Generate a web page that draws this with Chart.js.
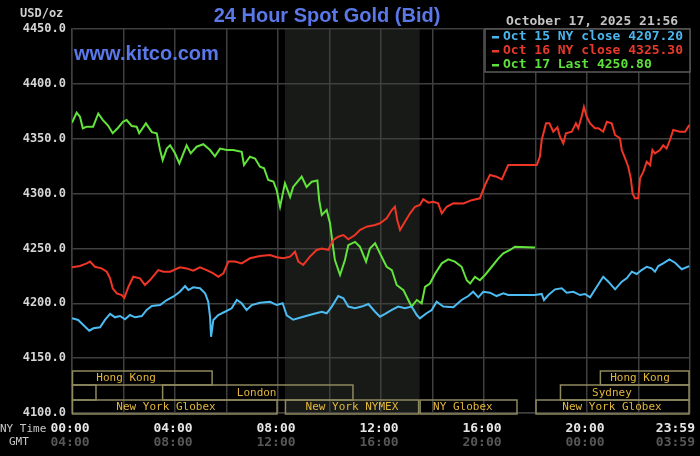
<!DOCTYPE html>
<html><head><meta charset="utf-8">
<script src="https://cdn.jsdelivr.net/npm/chart.js@4/dist/chart.umd.min.js"></script>
<style>html,body{margin:0;padding:0;background:#000;overflow:hidden}#wrap{width:700px;height:456px;position:relative}canvas{display:block;background:#000}</style>
</head><body><div id="wrap"><canvas id="c" width="700" height="456"></canvas></div>
<script>
// ---- data ----
const oct15Hours = [0.0,0.24,0.44,0.67,0.83,1.09,1.28,1.48,1.67,1.86,2.06,2.25,2.45,2.71,2.90,3.10,3.42,3.68,3.93,4.19,4.39,4.52,4.71,4.97,5.17,5.29,5.36,5.40,5.49,5.68,5.94,6.20,6.40,6.59,6.78,6.98,7.30,7.69,7.95,8.18,8.34,8.59,8.98,9.37,9.70,9.89,10.09,10.34,10.54,10.73,10.99,11.25,11.51,11.77,11.96,12.16,12.42,12.67,12.93,13.19,13.39,13.51,13.77,13.97,14.16,14.42,14.81,15.13,15.39,15.58,15.78,15.97,16.23,16.49,16.75,16.94,17.98,18.24,18.33,18.50,18.76,19.02,19.21,19.47,19.73,19.92,20.12,20.38,20.63,20.83,21.09,21.35,21.54,21.74,21.93,22.12,22.32,22.51,22.64,22.77,22.96,23.20,23.42,23.68,23.97];
const oct15Price = [4186.3,4184.8,4180.2,4175.0,4177.2,4178.1,4184.8,4190.3,4187.2,4188.4,4185.4,4189.3,4187.2,4188.4,4193.9,4197.5,4198.4,4203.0,4206.0,4210.5,4215.7,4212.1,4214.5,4213.7,4209.1,4201.4,4187.8,4169.5,4184.8,4189.3,4192.3,4195.4,4203.0,4200.0,4193.9,4198.4,4200.5,4201.4,4198.4,4200.0,4189.0,4185.0,4187.8,4190.3,4192.3,4190.9,4197.0,4206.6,4204.5,4197.0,4195.4,4197.0,4199.3,4192.3,4187.8,4190.3,4193.9,4197.0,4195.4,4197.0,4189.3,4186.3,4190.9,4193.9,4201.4,4197.0,4196.3,4203.0,4206.6,4210.5,4205.4,4210.5,4209.7,4206.6,4209.0,4207.5,4207.5,4208.5,4203.0,4207.5,4212.7,4213.6,4209.7,4210.5,4207.5,4208.5,4205.4,4215.1,4224.2,4219.7,4212.7,4219.7,4222.8,4228.8,4226.7,4230.3,4233.3,4231.8,4228.8,4233.9,4236.4,4240.0,4237.0,4231.0,4233.9];

const oct16Hours = [0.00,0.31,0.57,0.70,0.89,1.15,1.35,1.48,1.58,1.74,1.93,2.03,2.19,2.38,2.64,2.83,3.03,3.35,3.55,3.81,4.19,4.45,4.71,4.97,5.23,5.49,5.68,5.88,6.07,6.33,6.59,6.91,7.30,7.69,7.95,8.21,8.47,8.66,8.79,8.98,9.24,9.50,9.70,9.95,10.15,10.34,10.54,10.73,10.99,11.18,11.44,11.77,11.96,12.22,12.42,12.54,12.63,12.74,12.93,13.13,13.32,13.51,13.64,13.84,14.03,14.22,14.36,14.55,14.81,15.20,15.52,15.84,16.04,16.23,16.49,16.69,16.94,18.05,18.17,18.24,18.41,18.54,18.69,18.85,18.95,19.08,19.18,19.41,19.57,19.66,19.79,19.88,19.99,20.12,20.31,20.44,20.63,20.77,20.96,21.09,21.28,21.35,21.48,21.60,21.70,21.77,21.86,21.99,22.06,22.19,22.32,22.45,22.54,22.64,22.83,22.96,23.09,23.22,23.35,23.61,23.81,23.97];
const oct16Price = [4232.8,4234.0,4236.4,4238.0,4233.3,4231.8,4228.8,4222.7,4213.6,4209.0,4207.5,4205.0,4215.0,4224.2,4222.7,4216.7,4221.2,4230.3,4228.8,4228.8,4232.8,4231.8,4229.7,4232.8,4230.3,4227.3,4224.2,4227.3,4238.0,4238.0,4236.4,4241.0,4243.0,4244.0,4242.0,4241.0,4242.5,4247.0,4238.0,4234.9,4242.5,4248.6,4250.0,4248.6,4257.7,4260.7,4262.2,4258.3,4262.2,4266.8,4269.8,4271.3,4272.9,4277.4,4285.0,4288.0,4275.9,4266.8,4274.4,4282.0,4288.0,4289.6,4294.8,4291.7,4292.6,4291.1,4282.0,4288.0,4291.1,4291.0,4294.0,4295.7,4307.8,4317.0,4315.4,4313.0,4326.0,4326.0,4333.6,4348.8,4364.0,4364.0,4356.4,4360.4,4351.8,4345.8,4354.9,4356.4,4364.0,4359.5,4370.0,4379.0,4370.0,4364.0,4359.5,4359.5,4356.4,4365.5,4364.0,4353.4,4350.4,4339.7,4332.0,4324.5,4313.9,4300.2,4295.7,4295.7,4314.0,4320.0,4329.0,4326.0,4339.7,4336.7,4339.7,4344.0,4341.0,4348.8,4358.0,4356.4,4356.4,4362.5];

const oct17Hours = [0.00,0.18,0.31,0.42,0.58,0.82,1.02,1.20,1.40,1.58,1.79,1.98,2.12,2.32,2.51,2.61,2.87,3.10,3.29,3.42,3.52,3.68,3.81,4.00,4.17,4.45,4.61,4.84,5.10,5.36,5.55,5.75,6.01,6.26,6.59,6.68,6.91,7.11,7.30,7.46,7.62,7.82,7.95,8.08,8.27,8.47,8.59,8.92,9.11,9.31,9.53,9.60,9.70,9.89,10.02,10.12,10.21,10.41,10.60,10.73,10.99,11.18,11.42,11.57,11.77,11.96,12.22,12.42,12.61,12.87,13.06,13.19,13.39,13.58,13.71,13.90,14.10,14.36,14.61,14.87,15.13,15.33,15.46,15.65,15.84,16.04,16.30,16.56,16.75,17.01,17.20,17.98];
const oct17Price = [4364.6,4373.7,4370.0,4359.5,4361.0,4361.0,4373.0,4367.0,4362.0,4355.0,4360.0,4365.5,4367.0,4361.6,4361.0,4355.0,4364.0,4356.0,4355.0,4339.7,4330.6,4341.0,4344.0,4336.7,4327.6,4344.0,4336.7,4342.7,4345.0,4339.7,4334.0,4341.0,4339.7,4339.7,4338.0,4326.0,4333.6,4332.0,4324.5,4323.0,4312.4,4311.0,4303.0,4288.0,4309.4,4297.0,4306.0,4315.4,4306.0,4310.8,4312.0,4294.0,4280.5,4285.0,4273.0,4254.7,4239.4,4225.8,4239.4,4253.0,4256.0,4251.6,4237.9,4250.0,4254.7,4245.5,4233.3,4230.3,4216.7,4212.0,4203.0,4197.0,4203.0,4200.0,4215.0,4218.0,4227.0,4236.4,4240.0,4238.0,4233.3,4221.0,4218.0,4224.0,4221.0,4225.8,4233.3,4241.0,4245.5,4248.6,4251.6,4250.8];

const yTickValues = [4100,4150,4200,4250,4300,4350,4400,4450];
const labelHours = [0,4,8,12,16,20,24];
const nyTimeLabels = ['00:00','04:00','08:00','12:00','16:00','20:00','23:59'];
const gmtLabels = ['04:00','08:00','12:00','16:00','20:00','00:00','03:59'];

const legendLabels = ['Oct 15 NY close 4207.20','Oct 16 NY close 4325.30','Oct 17 Last 4250.80'];
const seriesColors = ['#4cbcf2','#ee3526','#62e43a'];
const legendColors = ['#4ab6ee','#e8392a','#5ee03c'];

const sessionNames = ['Hong Kong','','London','New York Globex','New York NYMEX','NY Globex','Hong Kong','Sydney','New York Globex'];
const sessionStart = [0,0,3.5,0,8.27,13.5,20.5,18.95,18.0];
const sessionEnd   = [5.48,0.97,10.95,8.0,13.5,17.32,24,24,24];
const sessionRow   = [0,1,1,2,2,2,0,1,2];
const sessionLabelAt = [2.1,0,7.17,3.65,10.87,15.18,22.06,20.97,20.97];
const nymexShade = [8.27,13.5];

// ---- chart ----
function pts(h,p){const n=Math.min(h.length,p.length);const o=[];for(let i=0;i<n;i++)o.push({x:h[i],y:p[i]});return o;}
const MONO='"DejaVu Sans Mono", monospace';

const overlay = {
  id:'overlay',
  beforeDraw(chart){
    const {ctx, chartArea:a, scales:{x}} = chart;
    ctx.save();
    ctx.fillStyle='#000';ctx.fillRect(0,0,chart.width,chart.height);
    const x0=x.getPixelForValue(nymexShade[0]), x1=x.getPixelForValue(nymexShade[1]);
    ctx.fillStyle='#171a17';ctx.fillRect(x0,a.top,x1-x0,a.bottom-a.top);
    ctx.restore();
  },
  afterDraw(chart){
    const {ctx, chartArea:a, scales:{x}} = chart;
    ctx.save();
    // session boxes
    const rowTop=[a.bottom-42,a.bottom-28,a.bottom-13];
    const rowH=[14,15,14];
    ctx.strokeStyle='#8e895e';ctx.lineWidth=1.5;
    ctx.font='11px '+MONO;ctx.textAlign='center';ctx.textBaseline='middle';
    for(let i=0;i<sessionNames.length;i++){
      const xs=x.getPixelForValue(sessionStart[i]), xe=x.getPixelForValue(sessionEnd[i]);
      const r=sessionRow[i];
      ctx.strokeRect(xs+0.5,rowTop[r],xe-xs-1.5,rowH[r]);
      if(sessionNames[i]){ctx.fillStyle='#e2b73c';ctx.fillText(sessionNames[i],x.getPixelForValue(sessionLabelAt[i]),rowTop[r]+rowH[r]/2+0.5);}
    }
    // x labels
    ctx.font='bold 13px '+MONO;
    for(let i=0;i<labelHours.length;i++){
      let px=x.getPixelForValue(labelHours[i]);
      ctx.textAlign='center';
      if(i===labelHours.length-1){ctx.textAlign='right';px+=5;}
      else px-=2;
      ctx.fillStyle='#e6e6e6';ctx.fillText(nyTimeLabels[i],px,429);
      ctx.fillStyle='#575757';ctx.fillText(gmtLabels[i],px,443);
    }
    ctx.font='11px '+MONO;ctx.fillStyle='#c8c8c8';
    ctx.textAlign='left';ctx.fillText('NY Time',0,429);
    ctx.fillText('GMT',9,442);
    // USD/oz
    ctx.font='bold 12px '+MONO;ctx.fillStyle='#cfcfcf';ctx.fillText('USD/oz',20,14);
    // title
    ctx.font='bold 20px "Liberation Sans", Arial, sans-serif';
    ctx.fillStyle='#5a78e8';ctx.textAlign='center';
    ctx.fillText('24 Hour Spot Gold (Bid)',327,16);
    ctx.textAlign='left';ctx.fillText('www.kitco.com',74,54);
    // date
    ctx.font='bold 13px '+MONO;ctx.fillStyle='#c4c4c4';ctx.textAlign='left';
    ctx.fillText('October 17, 2025 21:56',506,22);
    // legend box
    ctx.fillStyle='#000';ctx.fillRect(485,a.top,a.right-485,43);
    ctx.strokeStyle='#5a5a5a';ctx.lineWidth=1.5;ctx.strokeRect(485,a.top,a.right-485,43);
    ctx.font='bold 13px '+MONO;
    const ly=[37,51,65];
    for(let i=0;i<3;i++){
      ctx.fillStyle=legendColors[i];
      ctx.fillRect(492,ly[i]-1,7,2.5);
      ctx.fillText(legendLabels[i],503,ly[i]);
    }
    ctx.restore();
  }
};

new Chart(document.getElementById('c'),{
  type:'line',
  data:{datasets:[
    {label:'Oct 15 NY close 4207.20',data:pts(oct15Hours,oct15Price),borderColor:seriesColors[0]},
    {label:'Oct 16 NY close 4325.30',data:pts(oct16Hours,oct16Price),borderColor:seriesColors[1]},
    {label:'Oct 17 Last 4250.80',data:pts(oct17Hours,oct17Price),borderColor:seriesColors[2]}
  ]},
  options:{
    responsive:false,animation:false,devicePixelRatio:1,
    layout:{padding:{top:29,right:10,left:0,bottom:0}},
    elements:{point:{radius:0},line:{borderWidth:2,tension:0}},
    plugins:{legend:{display:false},tooltip:{enabled:false},title:{display:false}},
    scales:{
      x:{type:'linear',min:0,max:24,
        ticks:{display:false,stepSize:2},
        grid:{color:'#3f3f3f',lineWidth:1.5,drawTicks:false},
        border:{color:'#3f3f3f',width:1.5},
        afterFit(s){s.height=43;}
      },
      y:{type:'linear',min:4100,max:4450,
        afterBuildTicks(s){s.ticks=yTickValues.map(v=>({value:v}));},
        ticks:{color:'#d6d6d6',font:{family:'DejaVu Sans Mono',size:12,weight:'bold'},padding:6,callback:v=>Number(v).toFixed(1)},
        grid:{color:'#3f3f3f',lineWidth:1.5,drawTicks:false},
        border:{color:'#3f3f3f',width:1.5},
        afterFit(s){s.width=72;}
      }
    }
  },
  plugins:[overlay]
});
</script>
</body></html>
